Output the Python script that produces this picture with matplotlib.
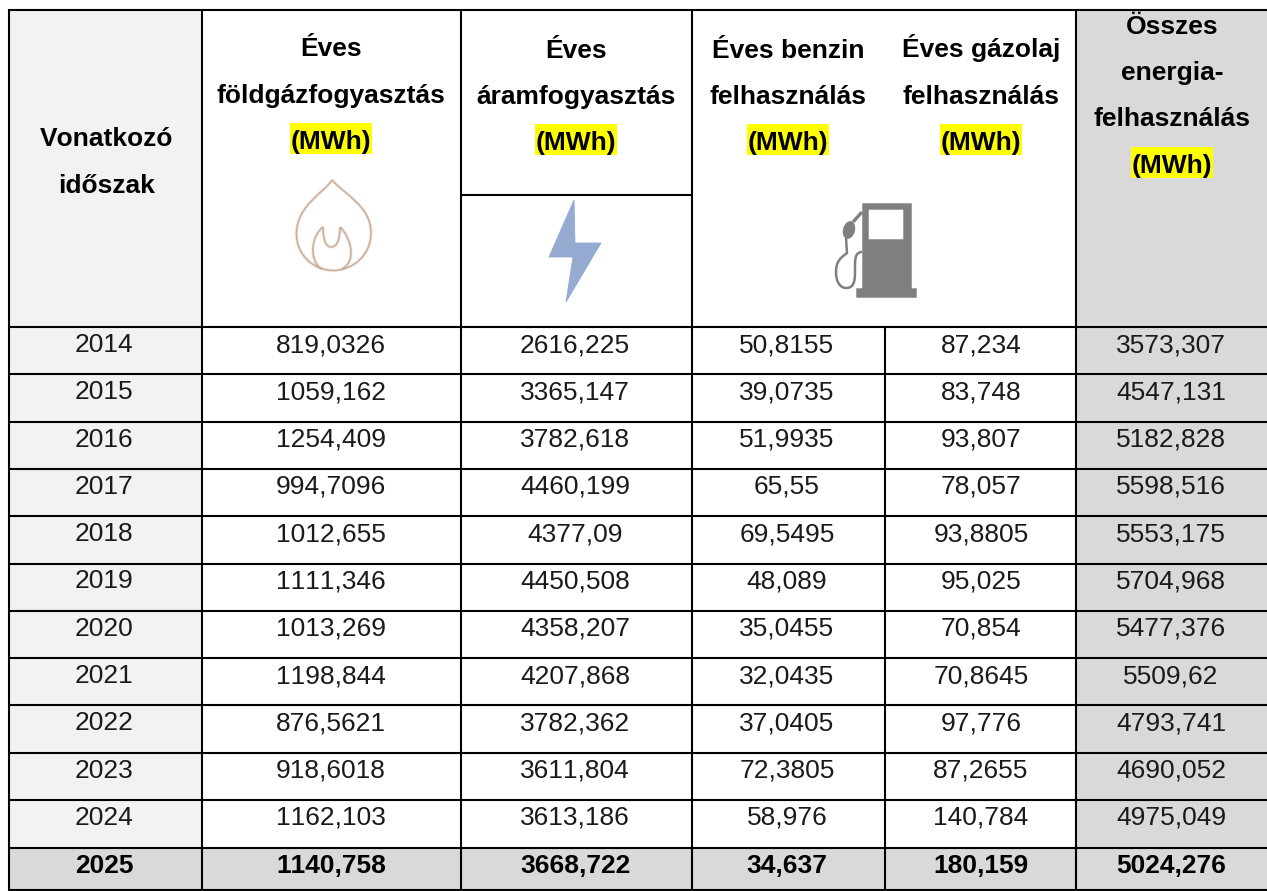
import matplotlib
matplotlib.use("Agg")
import matplotlib.pyplot as plt
from matplotlib.patches import Rectangle, Polygon, PathPatch, Ellipse
from matplotlib.path import Path

plt.rcParams['font.family'] = ['Liberation Sans', 'DejaVu Sans']
plt.rcParams['text.kerning_factor'] = 6

years = ["2014","2015","2016","2017","2018","2019","2020","2021","2022","2023","2024","2025"]
gas = ["819,0326","1059,162","1254,409","994,7096","1012,655","1111,346","1013,269","1198,844","876,5621","918,6018","1162,103","1140,758"]
power = ["2616,225","3365,147","3782,618","4460,199","4377,09","4450,508","4358,207","4207,868","3782,362","3611,804","3613,186","3668,722"]
petrol = ["50,8155","39,0735","51,9935","65,55","69,5495","48,089","35,0455","32,0435","37,0405","72,3805","58,976","34,637"]
diesel = ["87,234","83,748","93,807","78,057","93,8805","95,025","70,854","70,8645","97,776","87,2655","140,784","180,159"]
total = ["3573,307","4547,131","5182,828","5598,516","5553,175","5704,968","5477,376","5509,62","4793,741","4690,052","4975,049","5024,276"]
columns = [years, gas, power, petrol, diesel, total]

header_first = ["Vonatkozó", "időszak"]
header_gas = ["Éves", "földgázfogyasztás"]
header_power = ["Éves", "áramfogyasztás"]
header_petrol = ["Éves benzin", "felhasználás"]
header_diesel = ["Éves gázolaj", "felhasználás"]
header_total = ["Összes", "energia-", "felhasználás"]
unit = "(MWh)"

W, H = 1267, 891
X = [9, 201.5, 461, 691.5, 885, 1076, 1267]
DATA_CX = [104, 331, 575, 787, 981, 1171]
TOP, HB, BOT = 9.5, 327, 890
ROWH = [47.3] * 10 + [48, 42]
ROWT = [HB]
for r in ROWH:
    ROWT.append(ROWT[-1] + r)
ROWT[-1] = BOT

fig = plt.figure(figsize=(W / 100, H / 100), dpi=100)
ax = fig.add_axes([0, 0, 1, 1])
ax.set_xlim(0, W); ax.set_ylim(H, 0); ax.axis('off')

GREY = '#D9D9D9'; LIGHT = '#F2F2F2'; FS = 19; FB = 19
ax.add_patch(Rectangle((X[0], TOP), X[1]-X[0], BOT-TOP, fc=LIGHT, ec='none', zorder=0))
ax.add_patch(Rectangle((X[5], TOP), X[6]-X[5], BOT-TOP, fc=GREY, ec='none', zorder=0))
ax.add_patch(Rectangle((X[0], ROWT[-2]), X[6]-X[0], BOT-ROWT[-2], fc=GREY, ec='none', zorder=0))

def ln(x0, y0, x1, y1, lw=1.5):
    ax.plot([x0, x1], [y0, y1], color='black', lw=lw, solid_capstyle='butt', zorder=3)

ln(X[0]-1, TOP, X[6], TOP)
ln(X[0]-1, BOT, X[6], BOT)
for x in (X[0], X[1], X[2], X[3], X[5]):
    ln(x, TOP, x, BOT)
ln(X[4], HB, X[4], BOT)
for y in ROWT[:-1]:
    ln(X[0], y, X[6], y)
ln(X[2], 194.5, X[3], 194.5)

def block(cx, y0, lines, step=46.2, u=True):
    y = y0
    for t in lines:
        ax.text(cx, y, t, ha='center', va='baseline', fontsize=FB, fontweight='bold', zorder=5)
        y += step
    if u:
        ax.add_patch(Rectangle((cx-41, y-25.5), 82, 31, fc='#FFFF00', ec='none', zorder=2))
        ax.text(cx, y, unit, ha='center', va='baseline', fontsize=FB, fontweight='bold', zorder=5)

block(106.5, 146.5, header_first, u=False)
block(331, 56.5, header_gas)
block(576, 57.5, header_power)
block(788, 57.5, header_petrol)
block(981, 57.5, header_diesel)
block(1172, 34, header_total)

# icons
C, M, L = Path.CURVE4, Path.MOVETO, Path.LINETO
flame = '#C6A994'
flame_paths = [
    ([(332,180),(325,192),(297,205),(296.5,233),(296,256),(315,270.5),(333,270.5),(353,270.5),(371,255),(371,233),(371,206),(345,195),(332,180)], [M]+[C]*12),
    ([(323,227),(316,232),(312,244),(313,253),(314,262),(318,267),(322,269)], [M]+[C]*6),
    ([(340,227),(347,234),(351,244),(351,253),(351,262),(346,267),(342,269)], [M]+[C]*6),
    ([(323,227),(323,240),(326,247),(331,247),(337,247),(340,240),(340,227)], [M]+[C]*6),
]
for pts, codes in flame_paths:
    ax.add_patch(PathPatch(Path(pts, codes), fc='none', ec=flame, lw=2.4, alpha=0.25, zorder=2))
    ax.add_patch(PathPatch(Path(pts, codes), fc='none', ec=flame, lw=1.1, alpha=0.9, zorder=2))

ax.add_patch(Polygon([(574,200),(549,257),(573,257),(566,302),(601,243),(575,243)], closed=True, fc='#8FA7CF', ec='#8FA7CF', lw=0.6, alpha=0.95, zorder=2))

pump = '#7F7F7F'
soft = (0.5, 0.5, 0.5, 0.45)
ax.add_patch(Rectangle((862,203), 49, 86, fc=pump, ec=soft, lw=0.8, zorder=2))
ax.add_patch(Rectangle((868,209), 35, 30, fc='white', ec=soft, lw=0.8, zorder=2))
ax.add_patch(Rectangle((856,288), 60, 9, fc=pump, ec=soft, lw=0.8, zorder=2))
neck = [(862,212),(853,222)]
ax.add_patch(PathPatch(Path(neck,[M,L]), fc='none', ec=pump, lw=2.4, zorder=2))
hose = [(846,238),(847,253),(840,258),(836,262),(836,272),(836,283),(841,288),(846,288),(853,288),(855,283),(855,272),(855,262),(854,252),(862,252)]
ax.add_patch(PathPatch(Path(hose,[M,L]+[C]*12), fc='none', ec=pump, lw=1.8, zorder=2))
ax.add_patch(Ellipse((849,230), 12, 18, angle=15, fc=pump, ec='none', zorder=2))

for cx, col in zip(DATA_CX, columns):
    for i, t in enumerate(col):
        last = i == len(col) - 1
        ax.text(cx, ROWT[i] + 25, t, ha='center', va='baseline', fontsize=FS,
                fontweight='bold' if last else 'normal', color='black' if last else '#1A1A1A', zorder=5)

fig.savefig('out.png', dpi=100, facecolor='white')
